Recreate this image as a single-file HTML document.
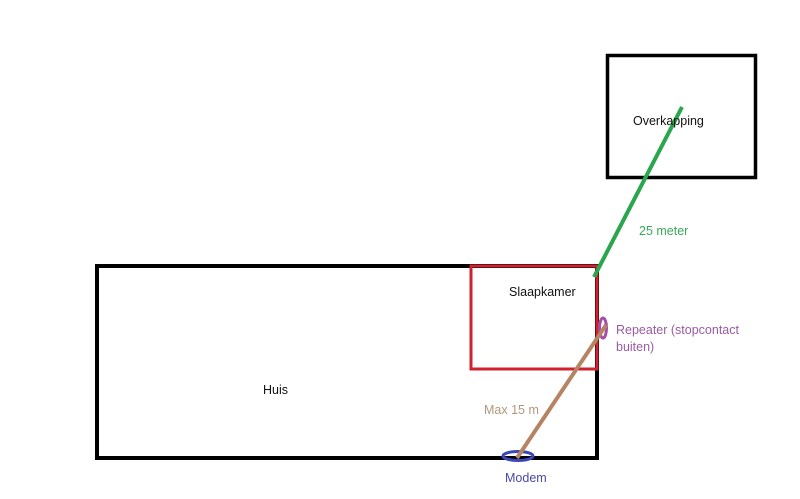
<!DOCTYPE html>
<html><head><meta charset="utf-8"><style>
html,body{margin:0;padding:0;background:#fff;width:800px;height:499px;overflow:hidden}
svg text{font-family:"Liberation Sans",sans-serif;font-size:12.5px}
</style></head><body>
<svg width="800" height="499" viewBox="0 0 800 499" xmlns="http://www.w3.org/2000/svg">
<rect x="97" y="266" width="500" height="192" fill="none" stroke="#000" stroke-width="4"/>
<rect x="471" y="266" width="126" height="103" fill="none" stroke="#d0222e" stroke-width="3"/>
<rect x="607.5" y="55.5" width="148" height="122" fill="none" stroke="#000" stroke-width="3.5"/>
<line x1="682" y1="107" x2="594" y2="277" stroke="#2aa64e" stroke-width="4"/>
<ellipse cx="603" cy="328" rx="3.5" ry="10" fill="none" stroke="#a54ea8" stroke-width="3"/>
<ellipse cx="518" cy="456" rx="15" ry="4.5" fill="none" stroke="#3c46b8" stroke-width="3"/>
<line x1="517" y1="458" x2="606" y2="325" stroke="#b58463" stroke-width="4"/>
<text x="633" y="125" fill="#111">Overkapping</text>
<text x="509" y="296" fill="#111">Slaapkamer</text>
<text x="263" y="394" fill="#111">Huis</text>
<text x="639" y="235" fill="#3aa85a">25 meter</text>
<text x="616" y="334" fill="#9a5aa4">Repeater (stopcontact</text>
<text x="616" y="351" fill="#9a5aa4">buiten)</text>
<text x="484" y="414" fill="#b4967a">Max 15 m</text>
<text x="505" y="482" fill="#4a4aa6">Modem</text>
</svg>
</body></html>
